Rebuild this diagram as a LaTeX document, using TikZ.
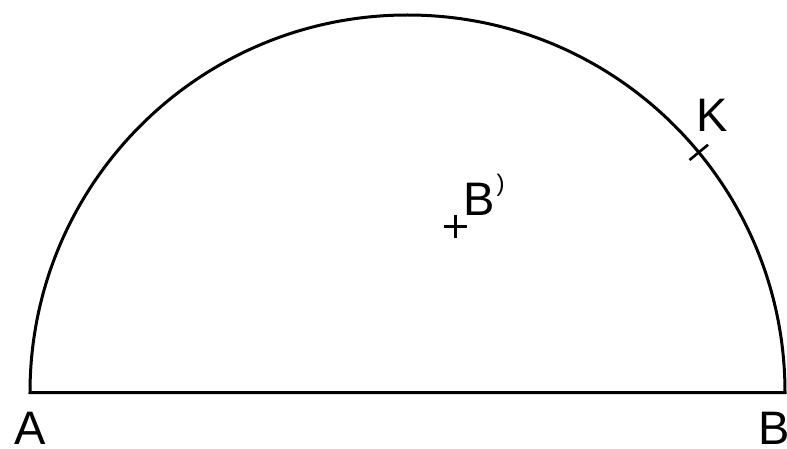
\documentclass[tikz,border=0pt]{standalone}
\usepackage{fontspec}
\setmainfont{Liberation Sans}
\usetikzlibrary{calc}
\begin{document}
\begin{tikzpicture}[x=1pt,y=-1pt,
  curve/.style={line width=3pt,black},
  tickmark/.style={line width=2.6pt,black},
  lbl/.style={inner sep=0pt,anchor=base west,font=\fontsize{47}{47}\selectfont},
  smalllbl/.style={inner sep=0pt,anchor=base west,font=\fontsize{24}{24}\selectfont}]
\useasboundingbox (0,0) rectangle (787,449);
\coordinate (O) at (407.5,392.5);
\coordinate (A) at (30,392.5);
\coordinate (B) at (785,392.5);
\draw[curve] (B) arc[start angle=0,end angle=180,radius=377.5pt] -- cycle;
\coordinate (K1) at ($(O)+(39.5:365.5pt)$);
\coordinate (K2) at ($(O)+(39.5:389.5pt)$);
\draw[tickmark] (K1) -- (K2);
\coordinate (P) at (455.5,226.5);
\draw[tickmark] ([xshift=-11.5pt]P) -- ([xshift=11.5pt]P);
\draw[tickmark] ([yshift=-11.5pt]P) -- ([yshift=11.5pt]P);
\node[lbl] (la) at (14.5,444.5) {A};
\node[lbl] (lb) at (758,444.5) {B};
\node[lbl] (lk) at (696,132) {K};
\node[lbl] (lbp) at (463,215) {B};
\node[smalllbl] (lpar) at (496.5,191.5) {)};
\end{tikzpicture}
\end{document}
